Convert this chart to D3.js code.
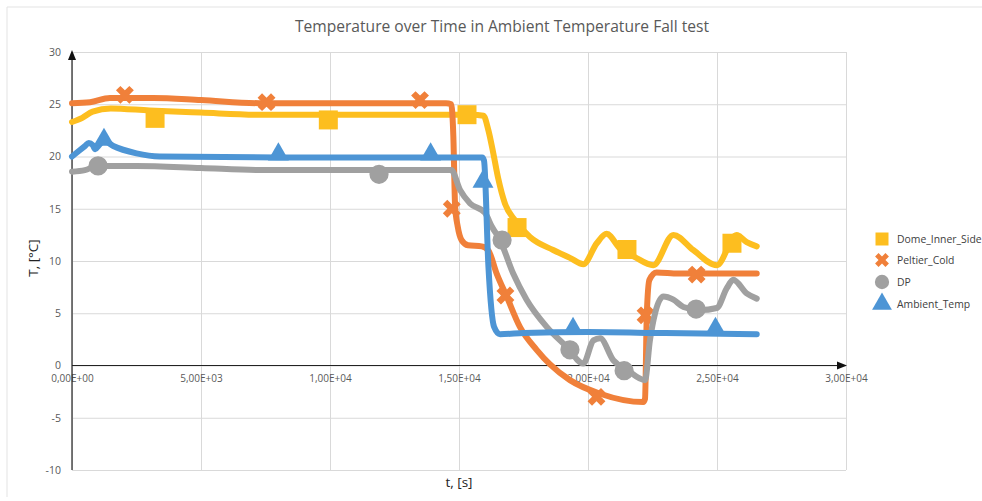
<!DOCTYPE html>
<html><head><meta charset="utf-8">
<script src="https://cdn.jsdelivr.net/npm/d3@7"></script>
<style>body{margin:0;background:#fff}svg{display:block}</style>
</head><body><svg id="c" width="982" height="501"></svg>
<script>
const titleText = "Temperature over Time in Ambient Temperature Fall test";
const xTitle = "t, [s]";
const yTitle = "T, [°C]";
const xTickValues = [0, 5000, 10000, 15000, 20000, 25000, 30000];
const xTickLabels = ["0,00E+00", "5,00E+03", "1,00E+04", "1,50E+04", "2,00E+04", "2,50E+04", "3,00E+04"];
const yTickValues = [-10, -5, 0, 5, 10, 15, 20, 25, 30];
const yTickLabels = ["-10", "-5", "0", "5", "10", "15", "20", "25", "30"];
const seriesNames = ["Dome_Inner_Side", "Peltier_Cold", "DP", "Ambient_Temp"];

const domeLine = [[0,23.3],[400,23.7],[800,24.3],[1500,24.6],[3000,24.4],[5000,24.2],[7300,24.0],[10000,24.0],[13000,24.0],[15500,24.0],[15950,23.9],[16140,22.5],[16330,20.3],[16520,17.9],[16780,15.5],[17170,13.9],[17750,12.3],[18650,11.05],[19300,10.3],[19820,9.7],[20340,11.7],[20720,12.6],[21240,11.2],[21800,10.4],[22530,9.6],[23310,12.5],[24080,11.05],[24990,9.6],[25760,12.5],[26150,11.8],[26540,11.4]];
const peltierLine = [[0,25.1],[700,25.2],[1470,25.6],[3140,25.6],[5000,25.4],[7290,25.1],[10000,25.1],[14500,25.1],[14700,25.0],[14780,22.0],[14850,15.2],[14950,13.3],[15100,12.0],[15350,11.5],[15880,11.4],[16140,11.0],[16460,8.8],[16850,6.6],[17360,3.7],[18010,1.5],[18530,0.1],[19300,-1.4],[20470,-2.7],[22140,-3.5],[22210,-3.2],[22280,5.0],[22380,8.2],[22660,8.9],[23500,8.8],[26540,8.8]];
const dpLine = [[0,18.55],[500,18.7],[1000,19.1],[2500,19.1],[5000,18.9],[7300,18.7],[10000,18.7],[14700,18.7],[15040,16.8],[15430,15.5],[16010,14.6],[16270,13.3],[16590,12.0],[17100,8.8],[17620,6.3],[18400,3.7],[19170,1.8],[19820,0.2],[20210,2.4],[20470,2.6],[20980,0.5],[21500,-0.4],[22210,-1.4],[22400,2.4],[22600,5.0],[22920,6.6],[23310,6.3],[23700,5.6],[24340,5.3],[24990,5.5],[25380,7.4],[25630,8.2],[26150,6.9],[26540,6.4]];
const ambientLine = [[0,20.0],[500,21.0],[650,21.3],[800,21.1],[900,20.7],[1050,21.1],[1240,21.5],[1600,21.0],[2500,20.3],[3400,20.0],[8000,19.9],[15900,19.9],[15970,19.6],[16140,9.5],[16360,3.7],[16590,3.0],[17500,3.1],[20000,3.2],[23000,3.1],[26540,3.0]];

const domeMarks = [[3220,23.65],[9935,23.5],[15310,24.0],[17250,13.2],[21510,11.1],[25580,11.7]];
const peltierMarks = [[2050,25.9],[7540,25.2],[13490,25.4],[14720,15.0],[16800,6.7],[20330,-3.0],[22230,4.8],[24210,8.7]];
const dpMarks = [[1010,19.1],[11900,18.3],[16670,12.0],[19300,1.5],[21400,-0.5],[24190,5.4]];
const ambientMarks = [[1240,21.6],[8000,20.2],[13900,20.2],[15930,17.6],[19420,3.5],[24940,3.5]];

const colors = ["#FDBE1F", "#F0803A", "#A0A0A0", "#4D95D5"];

const svg = d3.select("#c");
const x = d3.scaleLinear().domain([0, 30000]).range([72, 846]);
const y = d3.scaleLinear().domain([-10, 30]).range([470, 52]);

// chart area border
svg.append("path").attr("d", "M7,497 L7,7 L982,7").attr("fill", "none").attr("stroke", "#e3e3e3").attr("stroke-width", 1);

// gridlines
const gy = svg.append("g").attr("transform", "translate(72,0)")
  .call(d3.axisLeft(y).tickValues(yTickValues).tickSize(-774).tickFormat(""));
gy.select(".domain").remove();
gy.selectAll("line").attr("stroke", "#d9d9d9");
const gx = svg.append("g").attr("transform", "translate(0,470)")
  .call(d3.axisBottom(x).tickValues(xTickValues).tickSize(-418).tickFormat(""));
gx.select(".domain").remove();
gx.selectAll("line").attr("stroke", "#d9d9d9");

// tick labels
const ly = svg.append("g").attr("transform", "translate(72,0)")
  .call(d3.axisLeft(y).tickValues(yTickValues).tickSize(0).tickPadding(11).tickFormat((d, i) => yTickLabels[i]));
ly.select(".domain").remove();
ly.selectAll("text").attr("font-family", "Open Sans, sans-serif").attr("font-size", 10.5).attr("fill", "#595959");
const lx = svg.append("g").attr("transform", "translate(0," + y(0) + ")")
  .call(d3.axisBottom(x).tickValues(xTickValues).tickSize(0).tickPadding(9).tickFormat((d, i) => xTickLabels[i]));
lx.select(".domain").remove();
lx.selectAll("text").attr("font-family", "Open Sans, sans-serif").attr("font-size", 10).attr("fill", "#595959");

// axes lines with arrows
svg.append("line").attr("x1", 72).attr("x2", 72).attr("y1", y(-10)).attr("y2", y(30) + 4).attr("stroke", "#222").attr("stroke-width", 1.2);
svg.append("path").attr("d", `M72,${y(30) - 2} L68,${y(30) + 8} L76,${y(30) + 8} Z`).attr("fill", "#111");
svg.append("line").attr("x1", 72).attr("x2", x(30000) - 4).attr("y1", y(0)).attr("y2", y(0)).attr("stroke", "#222").attr("stroke-width", 1.2);
svg.append("path").attr("d", `M${x(30000) + 1},${y(0)} L${x(30000) - 9},${y(0) - 4} L${x(30000) - 9},${y(0) + 4} Z`).attr("fill", "#111");

// series
const line = d3.line().x(d => x(d[0])).y(d => y(d[1])).curve(d3.curveMonotoneX);
const lines = [domeLine, peltierLine, dpLine, ambientLine];
const marks = [domeMarks, peltierMarks, dpMarks, ambientMarks];
const symbols = [
  d3.symbol().type(d3.symbolSquare).size(361),
  d3.symbol().type(d3.symbolCross).size(200),
  d3.symbol().type(d3.symbolCircle).size(290),
  d3.symbol().type(d3.symbolTriangle).size(190)
];
const rot = [0, 45, 0, 0];
lines.forEach((data, i) => {
  svg.append("path").datum(data).attr("d", line).attr("fill", "none")
    .attr("stroke", colors[i]).attr("stroke-width", 6).attr("stroke-linejoin", "round").attr("stroke-linecap", "round");
  svg.append("g").selectAll("path").data(marks[i]).join("path")
    .attr("d", symbols[i]).attr("fill", colors[i])
    .attr("transform", d => `translate(${x(d[0])},${y(d[1])}) rotate(${rot[i]})`);
});

// title
svg.append("text").attr("x", 502).attr("y", 32).attr("text-anchor", "middle")
  .attr("font-family", "Open Sans, sans-serif").attr("font-size", 15.6).attr("fill", "#595959").text(titleText);
// axis titles
svg.append("text").attr("x", 459).attr("y", 487).attr("text-anchor", "middle")
  .attr("font-family", "Open Sans, sans-serif").attr("font-size", 13.5).attr("fill", "#222").text(xTitle);
svg.append("text").attr("transform", "translate(38,258) rotate(-90)").attr("text-anchor", "middle")
  .attr("font-family", "Open Sans, sans-serif").attr("font-size", 13.5).attr("fill", "#222").text(yTitle);

// legend
const legSym = [
  d3.symbol().type(d3.symbolSquare).size(169),
  d3.symbol().type(d3.symbolCross).size(120),
  d3.symbol().type(d3.symbolCircle).size(160),
  d3.symbol().type(d3.symbolTriangle).size(170)
];
const legY = [239, 260, 282, 304];
seriesNames.forEach((name, i) => {
  svg.append("path").attr("d", legSym[i]).attr("fill", colors[i])
    .attr("transform", `translate(882,${legY[i]}) rotate(${rot[i]})`);
  svg.append("text").attr("x", 897).attr("y", legY[i] + 3.5)
    .attr("font-family", "Open Sans, sans-serif").attr("font-size", 10.4).attr("fill", "#404040").text(name);
});
</script></body></html>
